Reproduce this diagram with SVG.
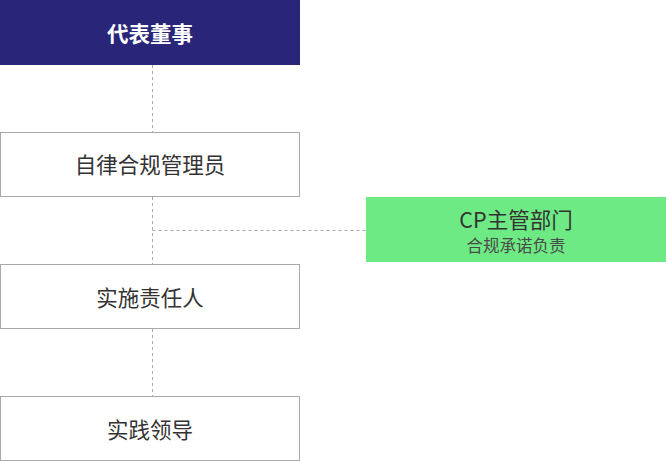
<svg xmlns="http://www.w3.org/2000/svg" width="666" height="461" viewBox="0 0 666 461">
<style>
.box{fill:#fff;stroke:#aaaaaa;stroke-width:1}
.t{font-family:"Noto Sans CJK SC","Noto Sans",sans-serif;font-size:21.5px;fill:#333;text-anchor:middle}
.s{font-family:"Noto Sans CJK SC","Noto Sans",sans-serif;font-size:16.5px;fill:#4a4a4a;text-anchor:middle}
.c{stroke:#aaaaaa;stroke-width:1;stroke-dasharray:3,3;fill:none}
</style>
<rect width="666" height="461" fill="#fff"/>
<g id="connectors">
<line class="c" x1="152.5" y1="65" x2="152.5" y2="132"/>
<line class="c" x1="152.5" y1="197" x2="152.5" y2="264"/>
<line class="c" x1="152.5" y1="329" x2="152.5" y2="396"/>
<line class="c" x1="152.5" y1="230.5" x2="366" y2="230.5"/>
</g>
<g id="n1">
<rect x="0" y="0" width="300" height="65" fill="#29267a"/>
<text class="t" x="150" y="41.5" style="fill:#fff;font-weight:bold">代表董事</text>
</g>
<g id="n2">
<rect class="box" x="0.5" y="132.5" width="299" height="64"/>
<text class="t" x="150" y="173">自律合规管理员</text>
</g>
<g id="n3">
<rect class="box" x="0.5" y="264.5" width="299" height="64"/>
<text class="t" x="150" y="305.5">实施责任人</text>
</g>
<g id="n4">
<rect class="box" x="0.5" y="396.5" width="299" height="64"/>
<text class="t" x="150" y="437.5">实践领导</text>
</g>
<g id="n5">
<rect x="366" y="197" width="300" height="65" fill="#6eea84"/>
<text class="t" x="516" y="227.5">CP主管部门</text>
<text class="s" x="516" y="252">合规承诺负责</text>
</g>
</svg>
